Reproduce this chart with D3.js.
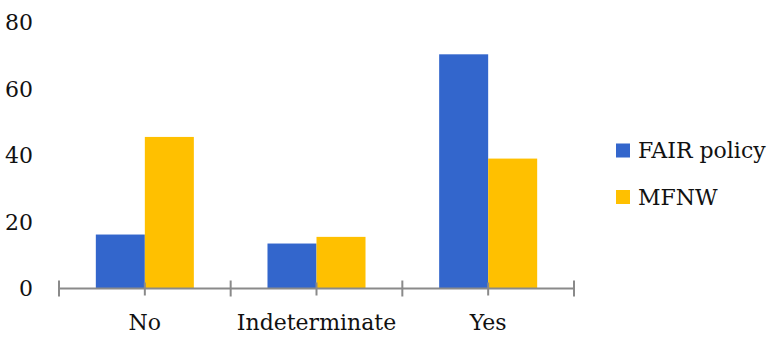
<!DOCTYPE html>
<html>
<head>
<meta charset="utf-8">
<script src="https://cdn.jsdelivr.net/npm/d3@7"></script>
<style>
  html, body { margin: 0; padding: 0; background: #fff; }
  svg text { font-family: "DejaVu Serif", serif; fill: #111; }
</style>
</head>
<body>
<svg id="chart" width="770" height="337"></svg>
<script>
// Response categories and the share (%) for each source
const categories = ["No", "Indeterminate", "Yes"];
const seriesNames = ["FAIR policy", "MFNW"];
const fairPolicy = [16.2, 13.5, 70.3];
const mfnw = [45.5, 15.5, 39.0];
const yTicks = [0, 20, 40, 60, 80];
const colors = ["#3366CC", "#FFC000"];

const seriesValues = [fairPolicy, mfnw];

(function drawChart() {
  const svg = d3.select("#chart");
  const plotLeft = 59, plotRight = 574, plotTop = 22, plotBottom = 288.5;

  const x0 = d3.scaleBand().domain(categories).range([plotLeft, plotRight]).padding(0);
  const bw = x0.bandwidth();
  const x1 = d3.scaleBand().domain(seriesNames).range([bw * 0.2145, bw * 0.7855]).padding(0);
  const y = d3.scaleLinear().domain([0, 80]).range([plotBottom, plotTop]);

  // y tick labels (no axis line or gridlines)
  svg.append("g")
    .selectAll("text")
    .data(yTicks)
    .join("text")
    .attr("x", 33)
    .attr("y", d => y(d))
    .attr("dy", "0.36em")
    .attr("text-anchor", "end")
    .attr("font-size", 22)
    .text(d => d);

  // bars
  const groups = svg.append("g")
    .selectAll("g")
    .data(categories)
    .join("g")
    .attr("transform", d => `translate(${x0(d)},0)`);

  groups.selectAll("rect")
    .data((c, i) => seriesNames.map((s, k) => ({ s, k, v: seriesValues[k][i] })))
    .join("rect")
    .attr("x", d => x1(d.s))
    .attr("width", x1.bandwidth())
    .attr("y", d => y(d.v))
    .attr("height", d => y(0) - y(d.v))
    .attr("fill", d => colors[d.k]);

  // category axis: line with cross ticks at band edges and centres
  const axis = svg.append("g").attr("stroke", "#8a8a8a").attr("stroke-width", 2);
  axis.append("line")
    .attr("x1", plotLeft).attr("x2", plotRight)
    .attr("y1", y(0)).attr("y2", y(0));
  const edgeTicks = categories.map(c => x0(c)).concat([plotRight]);
  axis.selectAll("line.edge")
    .data(edgeTicks)
    .join("line")
    .attr("class", "edge")
    .attr("x1", d => d).attr("x2", d => d)
    .attr("y1", y(0) - 8).attr("y2", y(0) + 8);
  axis.selectAll("line.mid")
    .data(categories)
    .join("line")
    .attr("class", "mid")
    .attr("x1", d => x0(d) + bw / 2).attr("x2", d => x0(d) + bw / 2)
    .attr("y1", y(0) - 6).attr("y2", y(0) + 7);

  // category labels
  svg.append("g")
    .selectAll("text")
    .data(categories)
    .join("text")
    .attr("x", d => x0(d) + bw / 2)
    .attr("y", 330)
    .attr("text-anchor", "middle")
    .attr("font-size", 22)
    .text(d => d);

  // legend
  const legend = svg.append("g")
    .selectAll("g")
    .data(seriesNames)
    .join("g")
    .attr("transform", (d, i) => `translate(616,${150.5 + i * 46.5})`);
  legend.append("rect")
    .attr("x", 0).attr("y", -7)
    .attr("width", 14).attr("height", 14)
    .attr("fill", (d, i) => colors[i]);
  legend.append("text")
    .attr("x", 22)
    .attr("y", 0)
    .attr("dy", "0.36em")
    .attr("font-size", 22)
    .text(d => d);
})();
</script>
</body>
</html>
